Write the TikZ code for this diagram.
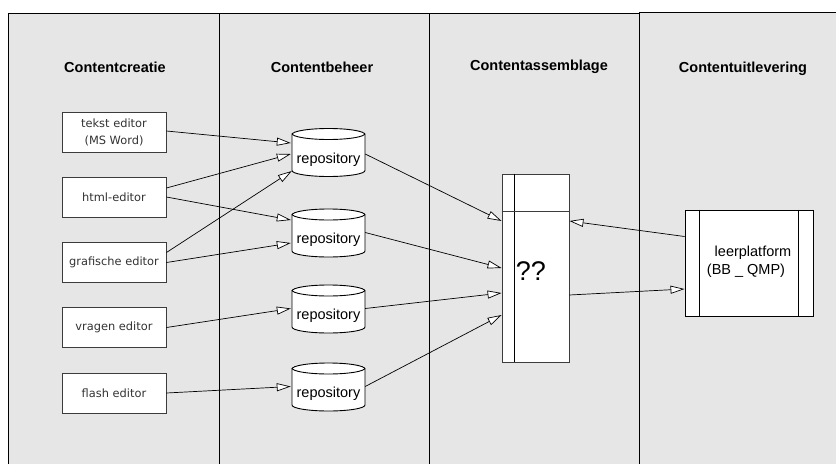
\documentclass[tikz,border=0pt]{standalone}
\usepackage{fontspec}
\setmainfont{Liberation Sans}
\newfontfamily\edfont{DejaVu Sans}
\usetikzlibrary{arrows.meta,calc}
\definecolor{lanebg}{RGB}{230,230,230}
\definecolor{boxline}{RGB}{60,60,60}
\tikzset{
  lanetitle/.style={font=\fontsize{14.5}{16}\selectfont\bfseries, inner sep=0pt},
  editor/.style={draw=boxline, line width=0.9pt, fill=white, minimum width=104pt, minimum height=40pt, inner sep=0pt, align=center, font=\edfont\fontsize{11.4}{17}\selectfont, text=black!80},
  repo/.style={minimum width=75pt, minimum height=51pt, inner sep=0pt, font=\fontsize{14.5}{16}\selectfont,
    path picture={
      \coordinate (pa) at ([shift={(1pt,-7pt)}]path picture bounding box.north west);
      \coordinate (pb) at ([shift={(1pt,7pt)}]path picture bounding box.south west);
      \draw[line width=0.9pt, fill=white] (pa) -- (pb) arc (180:360:36.5pt and 6pt) -- ++(0,36pt) arc (0:180:36.5pt and 6pt) -- cycle;
      \draw[line width=0.9pt] (pa) arc (180:360:36.5pt and 6pt);
    }},
  conn/.style={line width=0.7pt, -{Triangle[length=14pt,width=8pt,fill=white,line width=0.7pt]}},
}
\newcommand{\repotext}{\raisebox{-7.5pt}[\height][\depth]{repository}}
\begin{document}
\begin{tikzpicture}[x=1pt,y=1pt]
\useasboundingbox (0,0) rectangle (836,-464);
% lanes
\fill[lanebg] (8,-13) rectangle (836,-464);
\draw[line width=0.9pt] (8,-464) -- (8,-13) -- (639,-13);
\draw[line width=0.9pt] (639,-12.5) -- (836,-12.5);
\draw[line width=0.8pt] (219,-13) -- (219,-464);
\draw[line width=0.8pt] (429,-13) -- (429,-464);
\draw[line width=0.8pt] (639,-12.5) -- (639,-464);
% titles
\node[lanetitle] (t1) at (115,-67) {Contentcreatie};
\node[lanetitle] (t2) at (322,-67) {Contentbeheer};
\node[lanetitle] (t3) at (539,-67) {Contentassemblage};
\node[lanetitle] (t4) at (743,-69) {Contentuitlevering};
% editors
\node[editor] (e1) at (114,-132) {tekst editor\\(MS Word)};
\node[editor] (e2) at (114,-197) {html-editor};
\node[editor] (e3) at (114,-262.5) {grafische editor};
\node[editor] (e4) at (114,-327.5) {vragen editor};
\node[editor] (e5) at (114,-393) {flash editor};
% repositories
\node[repo] (r1) at (328.5,-152) {\repotext};
\node[repo] (r2) at (328.5,-232.5) {\repotext};
\node[repo] (r3) at (328.5,-308.5) {\repotext};
\node[repo] (r4) at (328.5,-386.5) {\repotext};
% assembly box
\node[draw=boxline, line width=0.9pt, fill=white, minimum width=67pt, minimum height=188pt, inner sep=0pt] (q) at (535.5,-268) {};
\draw[line width=0.9pt] ([xshift=13pt]q.north west) -- ([xshift=13pt]q.south west);
\draw[line width=0.9pt, draw=boxline] ([yshift=-38pt]q.north west) -- ([yshift=-38pt]q.north east);
\node[font=\fontsize{27}{30}\selectfont, inner sep=0pt, anchor=west] (qt) at ([shift={(14pt,-3pt)}]q.west) {??};
% platform box
\node[draw=black, line width=0.9pt, fill=white, minimum width=128pt, minimum height=106pt, inner sep=0pt] (l) at (749,-263) {};
\draw[line width=0.9pt] ([xshift=15pt]l.north west) -- ([xshift=15pt]l.south west);
\draw[line width=0.9pt] ([xshift=-15pt]l.north east) -- ([xshift=-15pt]l.south east);
\node[font=\fontsize{14.5}{18}\selectfont, align=center, inner sep=0pt] (lt) at (746,-262) {\hspace*{14pt}leerplatform\\(BB \_ QMP)};
% connectors editors -> repositories
\draw[conn] ([yshift=1pt]e1.east) -- ([yshift=9pt]r1.west);
\draw[conn] ([yshift=9pt]e2.east) -- ([yshift=-2pt]r1.west);
\draw[conn] (e2.east) -- ([yshift=12.5pt]r2.west);
\draw[conn] ([yshift=10pt]e3.east) -- ([shift={(1pt,-19pt)}]r1.west);
\draw[conn] (e3.east) -- ([yshift=-10.5pt]r2.west);
\draw[conn] (e4.east) -- (r3.west);
\draw[conn] (e5.east) -- (r4.west);
% repositories -> assembly
\draw[conn] ([shift={(-1pt,-2pt)}]r1.east) -- ([yshift=47pt]q.west);
\draw[conn] ([shift={(-1pt,0pt)}]r2.east) -- (q.west);
\draw[conn] ([shift={(-1pt,0pt)}]r3.east) -- ([yshift=-25pt]q.west);
\draw[conn] ([shift={(-1pt,0pt)}]r4.east) -- ([yshift=-47pt]q.west);
% platform <-> assembly
\draw[conn] ([yshift=26.5pt]l.west) -- ([yshift=47pt]q.east);
\draw[conn] ([yshift=-27pt]q.east) -- ([yshift=-26pt]l.west);
\end{tikzpicture}
\end{document}
